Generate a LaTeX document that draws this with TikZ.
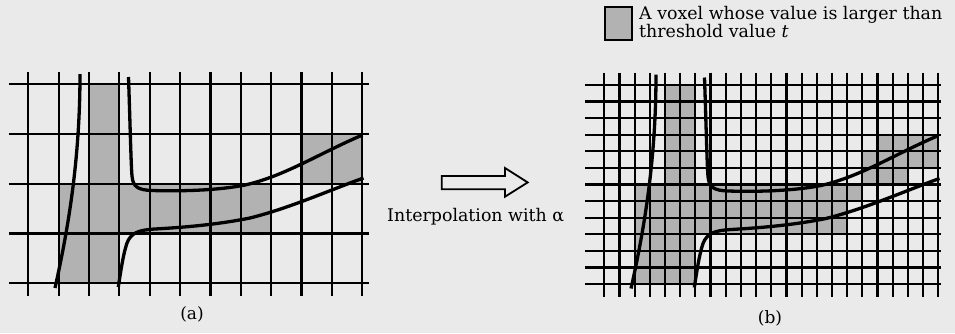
\documentclass[tikz,border=0pt]{standalone}
\usepackage{fontspec}
\setmainfont{DejaVu Serif}
\definecolor{bg}{RGB}{234,234,234}
\definecolor{vox}{RGB}{178,178,178}
\tikzset{
  gridline/.style={line width=2.2pt, black},
  curveline/.style={line width=3.3pt, black},
  voxel/.style={fill=vox},
  lbl/.style={font=\fontsize{17.4}{20}\selectfont, inner sep=0pt},
  sublbl/.style={font=\fontsize{17}{20}\selectfont, inner sep=0pt},
}
\newcommand{\voxcurves}{%
  \draw[curveline] (55,288) .. controls (68,230) and (80,160) .. (80,74);
  \draw[curveline] (128.5,77) .. controls (130,120) and (131,165) .. (132,176)
     .. controls (133,187) and (138,190) .. (152,190.5)
     .. controls (185,191.5) and (220,190) .. (245,185)
     .. controls (285,176) and (320,153) .. (362.5,135);
  \draw[curveline] (118.3,287) .. controls (121,270) and (123,255) .. (127,243)
     .. controls (131,233) and (138,230) .. (155,229)
     .. controls (190,227) and (220,224) .. (250,218)
     .. controls (290,208) and (330,190) .. (363.5,178);
}
\begin{document}
\begin{tikzpicture}[x=1pt,y=-1pt]
\fill[bg] (0,0) rectangle (955,333);
\useasboundingbox (0,0) rectangle (955,333);

% ---------- (a) coarse grid ----------
\begin{scope}[shift={(28.3,84.3)}, x=30.36pt, y=-49.75pt]
  \fill[voxel] (2,0) rectangle (3,4);
  \fill[voxel] (1,2) rectangle (8,3);
  \fill[voxel] (1,3) rectangle (2,4);
  \fill[voxel] (9,1) rectangle (11,2);
  \foreach \i in {0,...,11} \draw[gridline] (\i,-0.247) -- (\i,4.265);
  \foreach \j in {0,...,4} \draw[gridline] (-0.636,\j) -- (11.23,\j);
\end{scope}
\voxcurves

% ---------- (b) fine grid ----------
\begin{scope}[shift={(604.3,85)}, x=15.18pt, y=-16.583pt]
  \fill[voxel] (4,0) rectangle (6,12);
  \fill[voxel] (2,6) rectangle (4,12);
  \fill[voxel] (6,6) rectangle (16,9);
  \fill[voxel] (16,6) rectangle (17,7);
  \fill[voxel] (18,3) rectangle (22,5);
  \fill[voxel] (17,4) rectangle (18,6);
  \fill[voxel] (18,5) rectangle (20,6);
  \foreach \i in {0,...,22} \draw[gridline] (\i,-0.742) -- (\i,12.8);
  \foreach \j in {0,...,12} \draw[gridline] (-1.27,\j) -- (22.16,\j);
\end{scope}
\begin{scope}[shift={(576,0.5)}]
  \voxcurves
\end{scope}

% ---------- legend ----------
\draw[line width=2pt, fill=vox] (605,7) rectangle (631.5,40);
\node[lbl, anchor=base west] (leg1) at (639,19) {A voxel whose value is larger than};
\node[lbl, anchor=base west] (leg2) at (639,37.7) {threshold value \textit{t}};

% ---------- interpolation arrow ----------
\draw[line width=1.8pt, line join=miter] (441.7,176) -- (505,176) -- (505,168) -- (527.7,182.4)
   -- (505,196.7) -- (505,189.3) -- (441.7,189.3) -- cycle;
\node[lbl, anchor=base west] (interp) at (387,221.7) {Interpolation with α};

% ---------- sub-labels ----------
\node[sublbl] (la) at (192,314) {(a)};
\node[sublbl] (lb) at (770,318) {(b)};
\end{tikzpicture}
\end{document}
